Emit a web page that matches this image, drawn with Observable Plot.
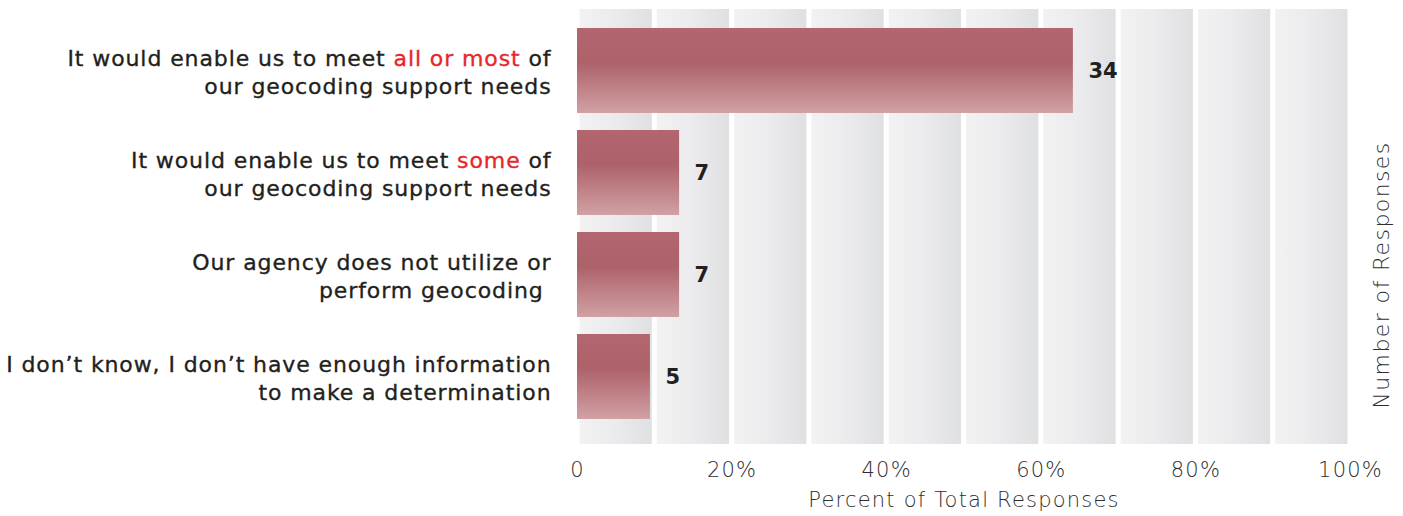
<!DOCTYPE html>
<html>
<head>
<meta charset="utf-8">
<script src="https://cdn.jsdelivr.net/npm/d3@7"></script>
<script src="https://cdn.jsdelivr.net/npm/@observablehq/plot@0.6"></script>
<style>
  html, body { margin: 0; padding: 0; background: #fff; }
</style>
</head>
<body>
<div id="chart"></div>
<script>
// Survey answers (two lines each) and the words shown in red
const categories = [
  "It would enable us to meet all or most of\nour geocoding support needs",
  "It would enable us to meet some of\nour geocoding support needs",
  "Our agency does not utilize or\nperform geocoding\u00a0",
  "I don’t know, I don’t have enough information\nto make a determination"
];
const highlights = ["all or most", "some", null, null];
// Number of responses for each answer
const counts = [34, 7, 7, 5];
// Axis ticks (percent of total) and the shaded background columns
const tickValues = [0, 20, 40, 60, 80, 100];
const columnStarts = [0, 10, 20, 30, 40, 50, 60, 70, 80, 90];
const columnWidth = 10;

const total = d3.sum(counts);
const rows = categories.map((category, i) => ({
  category,
  count: counts[i],
  percent: counts[i] / total * 100
}));

const ink = "#231f20";
const grey = "#2e2e2e";
const red = "#e8262b";
const font = "'DejaVu Sans', sans-serif";

// Gradients for the bars and the background columns
function gradients() {
  const defs = d3.create("svg:defs");
  const bar = defs.append("linearGradient")
    .attr("id", "barGrad").attr("x1", 0).attr("y1", 0).attr("x2", 0).attr("y2", 1);
  bar.append("stop").attr("offset", "0%").attr("stop-color", "#b3666f");
  bar.append("stop").attr("offset", "40%").attr("stop-color", "#ad6169");
  bar.append("stop").attr("offset", "100%").attr("stop-color", "#d1a1a4");
  const col = defs.append("linearGradient")
    .attr("id", "colGrad").attr("x1", 0).attr("y1", 0).attr("x2", 1).attr("y2", 0);
  col.append("stop").attr("offset", "0%").attr("stop-color", "#f2f2f3");
  col.append("stop").attr("offset", "45%").attr("stop-color", "#ececee");
  col.append("stop").attr("offset", "100%").attr("stop-color", "#dfe0e2");
  return defs.node();
}

// Letter spacing for a text mark's group
function spaced(px) {
  return (index, scales, values, dimensions, context, next) => {
    const g = next(index, scales, values, dimensions, context);
    g.setAttribute("letter-spacing", px);
    return g;
  };
}

// Answer labels: slightly heavier strokes, highlighted phrase in red
function highlightRender(index, scales, values, dimensions, context, next) {
  const g = next(index, scales, values, dimensions, context);
  g.setAttribute("letter-spacing", 0.9);
  g.setAttribute("stroke", ink);
  g.setAttribute("stroke-width", 0.35);
  d3.select(g).selectAll("text").each(function (i) {
    const phrase = highlights[i];
    if (!phrase) return;
    const lines = this.querySelectorAll("tspan");
    const targets = lines.length ? Array.from(lines) : [this];
    for (const el of targets) {
      const s = el.textContent;
      const k = s.indexOf(phrase);
      if (k < 0) continue;
      el.textContent = "";
      const sel = d3.select(el);
      sel.append("tspan").text(s.slice(0, k));
      sel.append("tspan").attr("fill", red).attr("stroke", red).text(phrase);
      sel.append("tspan").text(s.slice(k + phrase.length));
    }
  });
  return g;
}

const chart = Plot.plot({
  width: 1403,
  height: 516,
  marginLeft: 577,
  marginRight: 53,
  marginTop: 9,
  marginBottom: 72,
  style: { fontFamily: font, background: "#fff", color: ink, letterSpacing: "1.2px" },
  x: { domain: [0, 100], axis: null },
  y: { domain: categories, paddingInner: 0.169, paddingOuter: 0.21, align: 0.42, axis: null },
  marks: [
    gradients,
    Plot.rect(columnStarts, {
      x1: d => d, x2: d => d + columnWidth,
      fill: "url(#colGrad)", insetLeft: 2.5, insetRight: 2.5
    }),
    Plot.barX(rows, { x: "percent", y: "category", fill: "url(#barGrad)" }),
    Plot.text(rows, {
      x: "percent", y: "category", text: d => String(d.count),
      textAnchor: "start", dx: 15, fontSize: 21, fontWeight: 700, fill: ink,
      render: spaced(0)
    }),
    Plot.text(rows, {
      frameAnchor: "left", y: "category", text: "category",
      textAnchor: "end", dx: -26, fontSize: 22, fontWeight: 400,
      lineHeight: 1.27, fill: ink, render: highlightRender
    }),
    Plot.axisX(tickValues, {
      tickSize: 0, tickPadding: 18, fontSize: 21, fontWeight: 200,
      tickFormat: d => d === 0 ? "0" : d + "%", color: grey, label: null
    }),
    Plot.text(["Percent of Total Responses"], {
      frameAnchor: "bottom", dy: 62, fontSize: 21, fontWeight: 200, fill: grey
    }),
    Plot.text(["Number of Responses"], {
      frameAnchor: "right", textAnchor: "middle", rotate: -90, dx: 31, dy: 48,
      fontSize: 22, fontWeight: 200, fill: grey, render: spaced(1.4)
    })
  ]
});

document.getElementById("chart").append(chart);
</script>
</body>
</html>
